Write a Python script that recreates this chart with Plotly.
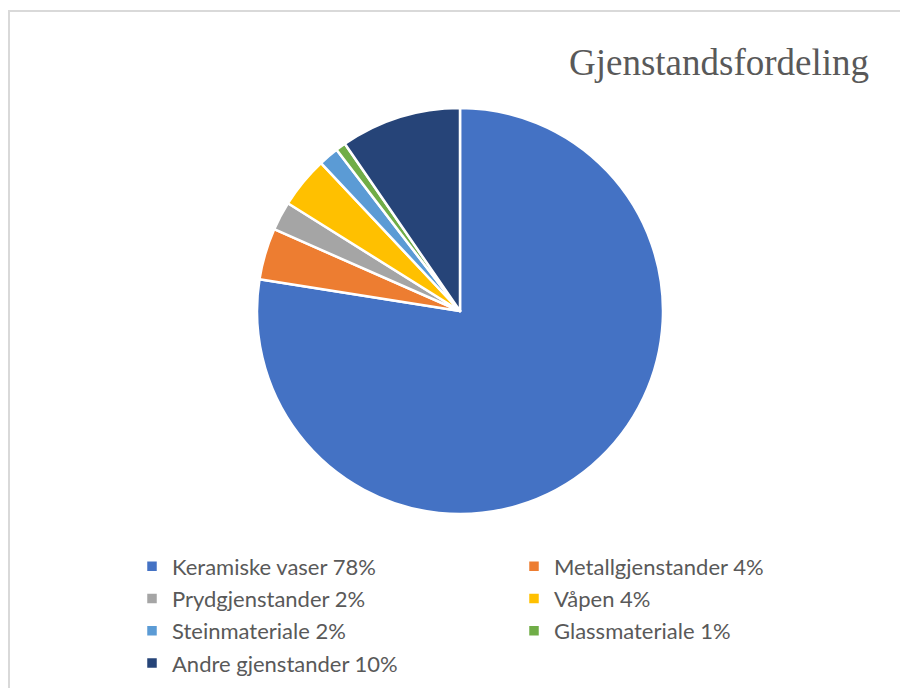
import plotly.graph_objects as go

labels = ["Keramiske vaser 78%", "Metallgjenstander 4%", "Prydgjenstander 2%",
          "Våpen 4%", "Steinmateriale 2%", "Glassmateriale 1%", "Andre gjenstander 10%"]
values = [77.5, 4.1, 2.3, 4.1, 1.6, 0.8, 9.6]
colors = ["#4472C4", "#ED7D31", "#A5A5A5", "#FFC000", "#5B9BD5", "#70AD47", "#264478"]
title_text = "Gjenstandsfordeling"

W, H = 900, 688
legend_labels = ['<span style="font-size:22px">%s</span>' % s for s in labels]

fig = go.Figure(go.Pie(
    labels=legend_labels,
    values=values,
    sort=False,
    direction="clockwise",
    rotation=0,
    textinfo="none",
    hoverinfo="label+percent",
    marker=dict(colors=colors, line=dict(color="white", width=2.5)),
    domain=dict(x=[257 / W, 663 / W], y=[1 - 514 / H, 1 - 108 / H]),
))

fig.update_layout(
    width=W, height=H,
    margin=dict(l=0, r=0, t=0, b=0, autoexpand=False),
    paper_bgcolor="white",
    plot_bgcolor="white",
    showlegend=True,
    legend=dict(
        orientation="h",
        x=132 / W, xanchor="left",
        y=1 - 545 / H, yanchor="top",
        entrywidth=337, entrywidthmode="pixels",
        font=dict(family="Lato", size=22.5, color="#595959"),
        bgcolor="rgba(0,0,0,0)",
    ),
    annotations=[dict(
        text=title_text, showarrow=False,
        xref="paper", yref="paper",
        x=871 / W, xanchor="right",
        y=1 - 40 / H, yanchor="top",
        font=dict(family="Liberation Serif", size=37, color="#595959"),
    )],
    shapes=[dict(
        type="rect", xref="paper", yref="paper",
        x0=9 / W, x1=1.2, y0=-0.2, y1=1 - 11 / H,
        line=dict(color="#D9D9D9", width=2),
        fillcolor="rgba(0,0,0,0)", layer="below",
    )],
)

fig.write_html("out.html", config={"displayModeBar": False},
               post_script="document.body.style.margin='0';")
